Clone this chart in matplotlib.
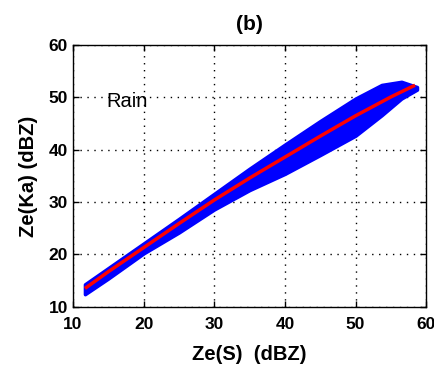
import numpy as np
import matplotlib
matplotlib.use("Agg")
from matplotlib import pyplot as plt

# envelope of the blue scatter cloud
ze_s = [11.7, 15.0, 20.0, 25.0, 30.0, 35.0, 40.0, 45.0, 50.0, 53.7, 56.5, 58.7]
ka_upper = [14.3, 17.4, 22.1, 26.8, 31.6, 36.4, 41.0, 45.5, 49.8, 52.4, 53.0, 52.0]
ka_lower = [12.4, 15.4, 20.2, 24.2, 28.6, 32.3, 35.4, 39.0, 42.7, 46.6, 49.8, 51.5]
# red fit line
fit_x = [11.9, 15.0, 20.0, 25.0, 30.0, 35.0, 40.0, 45.0, 50.0, 55.0, 58.2]
ka_fit = [13.7, 16.7, 21.3, 25.9, 30.4, 34.6, 38.6, 42.6, 46.5, 50.1, 52.2]

ticks = [10, 20, 30, 40, 50, 60]

plt.rcParams['font.family'] = ['Liberation Sans', 'DejaVu Sans']

fig = plt.figure(figsize=(4.34, 3.67), dpi=100)
ax = fig.add_axes([0.168, 0.164, 0.814, 0.713])

ax.fill_between(ze_s, ka_lower, ka_upper, color='#0000ff', edgecolor='#0000ff', linewidth=2.5, zorder=2)
ax.plot(fit_x, ka_fit, color='#ff0000', linewidth=2.5, zorder=3)

ax.set_xlim(10, 60)
ax.set_ylim(10, 60)
ax.set_xticks(ticks)
ax.set_yticks(ticks)
ax.grid(True, color='black', linestyle=(0, (1, 4)), linewidth=1.0, zorder=1)
ax.tick_params(direction='in', length=4, top=True, right=True, labelsize=12.5, width=1)
ax.tick_params(axis='x', pad=7)
for lab in ax.get_xticklabels() + ax.get_yticklabels():
    lab.set_fontweight('bold')
for s in ax.spines.values():
    s.set_linewidth(1.0)

ax.set_xlabel('Ze(S)  (dBZ)', fontsize=14.5, fontweight='bold', labelpad=10)
ax.set_ylabel('Ze(Ka) (dBZ)', fontsize=14.5, fontweight='bold', labelpad=8)
ax.set_title('(b)', fontsize=15, fontweight='bold', pad=11)
ax.text(14.8, 49.3, 'Rain', fontsize=14.5, va='center', ha='left')

fig.savefig('out.png', dpi=100)
